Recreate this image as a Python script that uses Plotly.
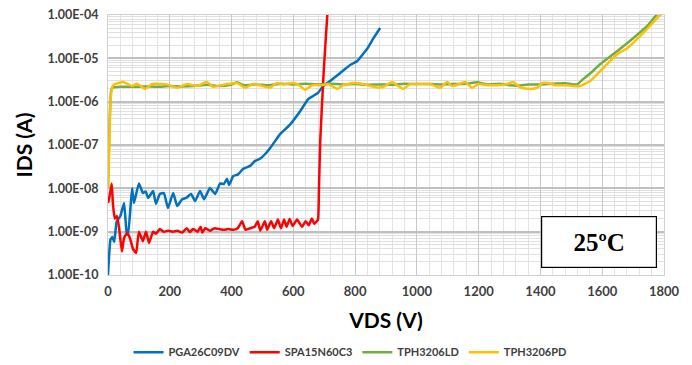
import plotly.graph_objects as go

# ---------------- data ----------------
pga_v = [0, 8, 14, 20, 28, 40, 52, 60, 65, 78, 84, 100, 113, 122, 130, 146, 155, 168, 181, 194,
         211, 224, 240, 253, 269, 282, 298, 311, 330, 347, 363, 375, 385, 392, 405, 421, 437, 460,
         476, 492, 509, 525, 541, 557, 590, 622, 648, 664, 680, 697, 719, 752, 784, 807, 839, 858, 881]
pga_i = [1.0e-10, 6.5e-10, 7.5e-10, 5.8e-10, 1.7e-9, 2.3e-9, 4.6e-9, 1.0e-9, 8.5e-10, 1.0e-8,
         4.6e-9, 1.3e-8, 7.8e-9, 8.5e-9, 6.0e-9, 8.7e-9, 4.4e-9, 7.4e-9, 7.8e-9, 3.5e-9,
         7.8e-9, 3.9e-9, 5.6e-9, 6.0e-9, 7.4e-9, 5.1e-9, 8.7e-9, 5.6e-9, 1.02e-8, 7.4e-9,
         1.3e-8, 1.25e-8, 1.66e-8, 1.2e-8, 1.9e-8, 2.1e-8, 2.8e-8, 3.3e-8,
         4.3e-8, 4.8e-8, 6.2e-8, 8.5e-8, 1.23e-7, 1.78e-7, 3.0e-7, 6.0e-7, 1.15e-6, 1.35e-6,
         1.6e-6, 2.3e-6, 3.0e-6, 4.6e-6, 7.0e-6, 8.7e-6, 1.66e-5, 2.8e-5, 5.0e-5]

spa_v = [0, 4, 12, 16, 22, 29, 36, 45, 52, 62, 71, 81, 91, 100, 113, 123, 133, 146, 155, 168,
         180, 195, 210, 225, 240, 255, 265, 275, 290, 300, 305, 315, 330, 345, 360, 375, 390,
         405, 420, 434, 445, 460, 475, 485, 493, 508, 515, 528, 538, 550, 560, 570, 578, 588,
         598, 612, 628, 640, 650, 660, 668, 676, 680, 683, 687, 698, 710, 712]
spa_i = [4.6e-9, 6.0e-9, 1.3e-8, 4.4e-9, 2.0e-9, 2.3e-9, 1.2e-9, 3.5e-10, 7.1e-10, 9.3e-10,
         7.1e-10, 4.0e-10, 3.2e-10, 1.0e-9, 6.0e-10, 1.0e-9, 5.5e-10, 1.0e-9, 8.9e-10, 1.15e-9,
         1.0e-9, 1.05e-9, 1.0e-9, 1.05e-9, 9.5e-10, 1.2e-9, 9.8e-10, 1.15e-9, 1.0e-9, 1.3e-9,
         9.5e-10, 1.2e-9, 1.05e-9, 1.2e-9, 1.15e-9, 1.1e-9, 1.15e-9,
         1.1e-9, 1.2e-9, 1.75e-9, 1.1e-9, 1.2e-9, 1.3e-9, 1.75e-9, 1.05e-9, 1.75e-9, 1.1e-9,
         1.75e-9, 1.2e-9, 1.9e-9, 1.2e-9, 1.9e-9, 1.3e-9, 1.95e-9,
         1.35e-9, 1.9e-9, 1.3e-9, 1.75e-9, 1.4e-9, 2.0e-9, 1.5e-9, 1.75e-9, 1.9e-9, 1.0e-8,
         1.2e-7, 4.5e-6, 1.0e-4, 1.3e-4]

tphld_v = [0, 5, 10, 15, 40, 80, 120, 160, 200, 240, 280, 320, 360, 400, 418, 440, 480, 520,
           560, 600, 640, 680, 720, 760, 800, 840, 880, 920, 960, 1000, 1040, 1080, 1120, 1160,
           1195, 1230, 1270, 1300, 1330, 1360, 1400, 1440, 1480, 1500, 1519, 1540, 1560, 1594,
           1649, 1701, 1750, 1778, 1790]
tphld_i = [1.0e-8, 3.0e-7, 1.8e-6, 2.1e-6, 2.2e-6, 2.2e-6, 2.25e-6, 2.2e-6, 2.3e-6, 2.25e-6,
           2.3e-6, 2.45e-6, 2.3e-6, 2.5e-6, 2.8e-6, 2.4e-6, 2.5e-6, 2.4e-6,
           2.6e-6, 2.5e-6, 2.6e-6, 2.5e-6, 2.6e-6, 2.5e-6, 2.55e-6, 2.45e-6, 2.5e-6, 2.45e-6,
           2.6e-6, 2.55e-6, 2.55e-6, 2.5e-6, 2.55e-6, 2.6e-6,
           2.8e-6, 2.5e-6, 2.6e-6, 2.4e-6, 2.35e-6, 2.5e-6, 2.5e-6, 2.6e-6, 2.65e-6, 2.55e-6,
           2.5e-6, 3.4e-6, 4.4e-6, 7.4e-6, 1.48e-5, 2.95e-5, 6.0e-5, 1.05e-4, 1.2e-4]

tphpd_v = [0, 4, 8, 14, 20, 49, 78, 94, 120, 143, 191, 224, 256, 288, 320, 340, 385, 418, 444,
           470, 499, 525, 547, 567, 596, 616, 638, 661, 693, 713, 742, 761, 794, 826, 849, 875,
           897, 920, 939, 956, 978, 1011, 1043, 1075, 1098, 1114, 1134, 1156, 1179, 1199, 1228,
           1260, 1293, 1312, 1335, 1367, 1390, 1406, 1425, 1448, 1487, 1506, 1529, 1561, 1594,
           1649, 1681, 1733, 1788, 1800]
tphpd_i = [1.0e-8, 1.0e-7, 1.0e-6, 2.2e-6, 2.5e-6, 2.85e-6, 2.3e-6, 2.6e-6, 1.97e-6, 2.55e-6,
           2.5e-6, 2.1e-6, 2.55e-6, 2.3e-6, 2.85e-6, 2.2e-6, 2.55e-6, 2.7e-6, 2.1e-6,
           2.55e-6, 2.3e-6, 2.1e-6, 2.7e-6, 2.5e-6, 2.7e-6, 2.5e-6, 1.87e-6, 2.4e-6, 2.4e-6,
           2.55e-6, 1.97e-6, 2.4e-6, 2.7e-6, 2.55e-6, 2.3e-6, 2.1e-6,
           2.3e-6, 2.85e-6, 2.3e-6, 1.97e-6, 2.55e-6, 2.55e-6, 2.55e-6, 2.1e-6, 2.85e-6, 2.3e-6,
           2.5e-6, 2.85e-6, 2.1e-6, 2.55e-6, 2.4e-6,
           2.4e-6, 2.55e-6, 2.85e-6, 2.1e-6, 1.97e-6, 2.1e-6, 2.7e-6, 2.7e-6, 2.4e-6, 2.4e-6,
           2.3e-6, 2.3e-6, 3.0e-6, 5.1e-6,
           1.26e-5, 1.7e-5, 3.85e-5, 1.0e-4, 1.1e-4]

series_names = ["PGA26C09DV", "SPA15N60C3", "TPH3206LD", "TPH3206PD"]
series_colors = ["#0070C0", "#FF0000", "#70AD47", "#FFC000"]

y_tickvals = [1e-10, 1e-9, 1e-8, 1e-7, 1e-6, 1e-5, 1e-4]
y_ticktext = ["1.00E-10", "1.00E-09", "1.00E-08", "1.00E-07", "1.00E-06", "1.00E-05", "1.00E-04"]
x_tickvals = [0, 200, 400, 600, 800, 1000, 1200, 1400, 1600, 1800]

# minor gridline positions (2..9 x each decade)
y_minor = [m * 10.0 ** e for e in range(-10, -4) for m in range(2, 10)]

FONT = "Lato"

fig = go.Figure()
for xs, ys, name, col in [(pga_v, pga_i, series_names[0], series_colors[0]),
                          (spa_v, spa_i, series_names[1], series_colors[1]),
                          (tphld_v, tphld_i, series_names[2], series_colors[2]),
                          (tphpd_v, tphpd_i, series_names[3], series_colors[3])]:
    fig.add_trace(go.Scatter(x=xs, y=ys, name=name, mode="lines",
                             line=dict(color=col, width=2.5, shape="spline", smoothing=0.4)))

# page body has an 8px margin: figure is sized/offset to compensate
fig.update_layout(
    width=684, height=357,
    margin=dict(l=100, r=28, t=7, b=90),
    paper_bgcolor="white", plot_bgcolor="white",
    font=dict(family=FONT, color="#404040"),
    showlegend=True,
    legend=dict(orientation="h", xref="container", yref="container",
                x=0.5, xanchor="center", y=0.036, yanchor="middle",
                font=dict(family=FONT, size=11, color="#404040", weight="bold"),
                itemwidth=30, tracegroupgap=0),
    xaxis=dict(range=[0, 1800], tickmode="array", tickvals=x_tickvals,
               automargin=False, ticklabeloverflow="allow",
               showgrid=True, gridcolor="#c8c8c8", gridwidth=1,
               minor=dict(dtick=40, tick0=0, showgrid=True, gridcolor="#e3e3e3", gridwidth=1),
               showline=True, linecolor="#d0d0d0", linewidth=1, mirror=True,
               zeroline=False, ticks="", ticklabelstandoff=4,
               tickfont=dict(family=FONT, size=13, color="#404040", weight="bold"),
               title=dict(text="VDS (V)", standoff=15,
                          font=dict(family=FONT, size=21, color="#000000", weight="bold"))),
    yaxis=dict(type="log", range=[-10, -4], tickmode="array",
               tickvals=y_tickvals, ticktext=y_ticktext,
               automargin=False, ticklabeloverflow="allow",
               showgrid=True, gridcolor="#c0c0c0", gridwidth=1.5,
               minor=dict(tickmode="array", tickvals=y_minor, showgrid=True,
                          gridcolor="#e0e0e0", gridwidth=1),
               showline=True, linecolor="#d0d0d0", linewidth=1, mirror=True,
               zeroline=False, ticks="", ticklabelstandoff=6,
               tickfont=dict(family=FONT, size=12.5, color="#404040", weight="bold"),
               title=dict(text="IDS (A)", standoff=9,
                          font=dict(family=FONT, size=21, color="#000000", weight="bold"))),
)

fig.add_annotation(text="<b>25ºC</b>", xref="paper", yref="paper",
                   x=0.883, y=0.127, xanchor="center", yanchor="middle",
                   showarrow=False, width=112, height=48,
                   bordercolor="#000000", borderwidth=1.2, bgcolor="white",
                   font=dict(family="Liberation Serif", size=25, color="#000000"))

fig.write_html("out.html")
